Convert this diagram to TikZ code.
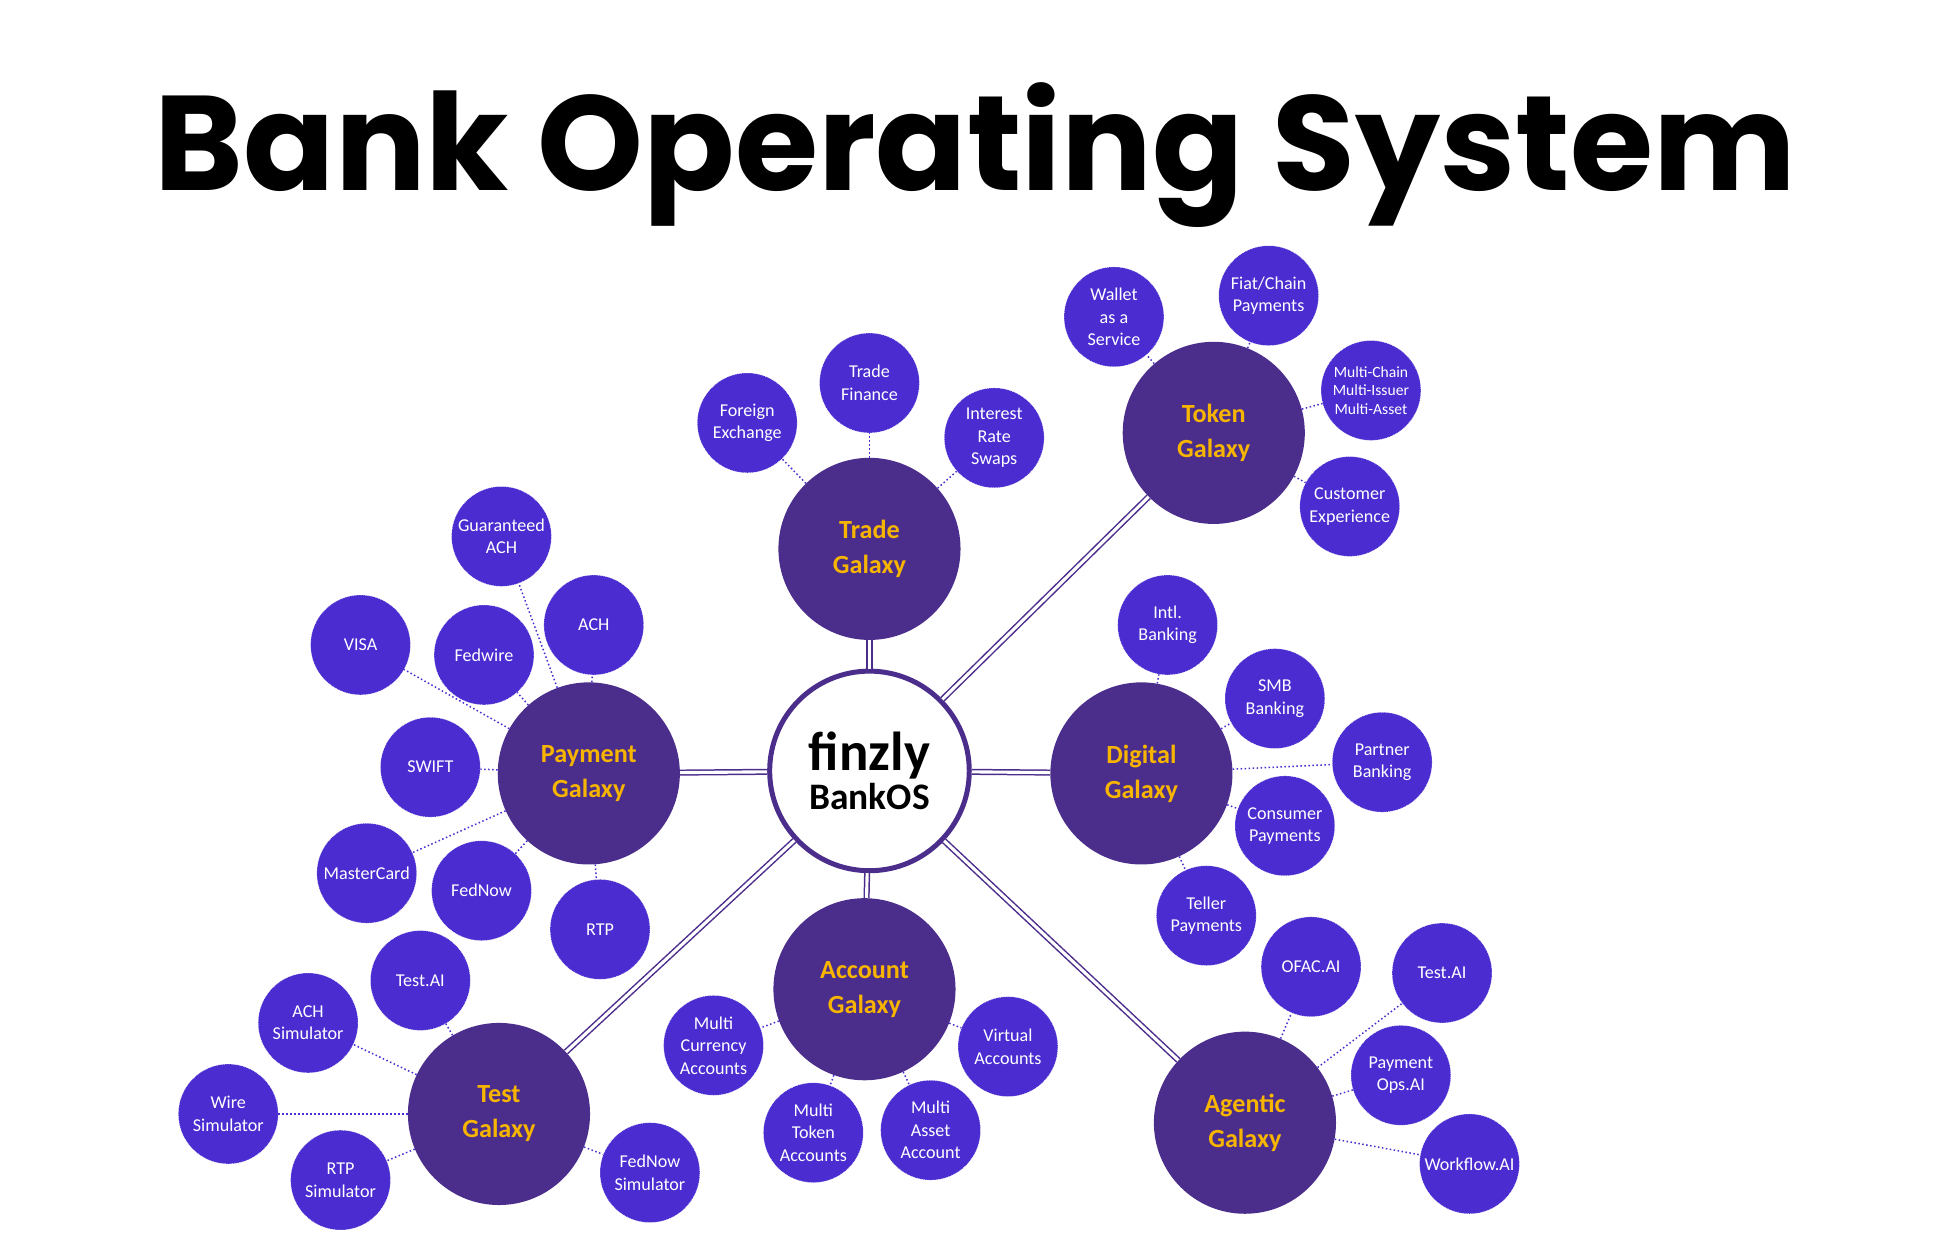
\documentclass[tikz,border=0pt]{standalone}
\usepackage{fontspec}
\setmainfont{Carlito}
\newfontfamily\titlefont{Poppins}
\usetikzlibrary{positioning}
\definecolor{galaxy}{HTML}{4B2D8C}
\definecolor{planet}{HTML}{4A2CD0}
\definecolor{gold}{HTML}{F7B500}
\tikzset{
  galaxy/.style={circle,fill=galaxy,minimum size=146pt,inner sep=0pt,align=center,
    text=gold,font=\fontsize{21}{28}\selectfont\bfseries},
  planet/.style={circle,fill=planet,draw=white,densely dotted,minimum size=80pt,inner sep=0pt,
    align=center,text=white,font=\fontsize{14.5}{18}\selectfont},
  hub/.style={double=white,draw=galaxy,double distance=2.5pt,line width=1.2pt},
  link/.style={draw=planet,dotted,line width=1.2pt}
}
\begin{document}
\begin{tikzpicture}[x=1pt,y=-1pt]
\useasboundingbox (0,0) rectangle (1560,1007);
\node (title) at (782,124) {\titlefont\fontsize{108}{108}\selectfont\bfseries Bank Operating System};
% core
\node[circle,fill=white,draw=galaxy,line width=4pt,minimum size=160pt,align=center] (core) at (697,618)
  {\fontsize{44}{44}\selectfont\bfseries finzly\\[2pt]\fontsize{30}{30}\selectfont\bfseries BankOS};
% galaxies
\node[galaxy] (trade) at (697,440) {Trade\\Galaxy};
\node[galaxy] (token) at (973,347) {Token\\Galaxy};
\node[galaxy] (payment) at (472,620) {Payment\\Galaxy};
\node[galaxy] (digital) at (915,620) {Digital\\Galaxy};
\node[galaxy] (account) at (693,793) {Account\\Galaxy};
\node[galaxy] (test) at (400,893) {Test\\Galaxy};
\node[galaxy] (agentic) at (998,900) {Agentic\\Galaxy};
% trade
\node[planet] (fx) at (599,339) {Foreign\\Exchange};
\node[planet] (finance) at (697,307) {Trade\\Finance};
\node[planet] (swaps) at (797,351) {Interest\\Rate\\Swaps};
% token
\node[planet] (wallet) at (893,254) {Wallet\\as a\\Service};
\node[planet] (fiat) at (1017,237) {Fiat/Chain\\Payments};
\node[planet,font=\fontsize{12.5}{15}\selectfont] (multichain) at (1099,313) {Multi-Chain\\Multi-Issuer\\Multi-Asset};
\node[planet] (custexp) at (1082,406) {Customer\\Experience};
% payment
\node[planet] (gach) at (402,430) {Guaranteed\\ACH};
\node[planet] (ach) at (476,501) {ACH};
\node[planet] (visa) at (289,517) {VISA};
\node[planet] (fedwire) at (388,525) {Fedwire};
\node[planet] (swift) at (345,615) {SWIFT};
\node[planet] (mastercard) at (294,700) {MasterCard};
\node[planet] (fednow) at (386,714) {FedNow};
\node[planet] (rtp) at (481,745) {RTP};
% digital
\node[planet] (intl) at (936,501) {Intl.\\Banking};
\node[planet] (smb) at (1022,560) {SMB\\Banking};
\node[planet] (partner) at (1108,611) {Partner\\Banking};
\node[planet] (consumer) at (1030,662) {Consumer\\Payments};
\node[planet] (teller) at (967,734) {Teller\\Payments};
% account
\node[planet] (multicur) at (572,838) {Multi\\Currency\\Accounts};
\node[planet] (virtual) at (808,839) {Virtual\\Accounts};
\node[planet] (multitok) at (652,908) {Multi\\Token\\Accounts};
\node[planet] (multiasset) at (746,906) {Multi\\Asset\\Account};
% test
\node[planet] (testai) at (337,786) {Test.AI};
\node[planet] (achsim) at (247,820) {ACH\\Simulator};
\node[planet] (wiresim) at (183,893) {Wire\\Simulator};
\node[planet] (rtpsim) at (273,946) {RTP\\Simulator};
\node[planet] (fednowsim) at (521,940) {FedNow\\Simulator};
% agentic
\node[planet] (ofac) at (1051,775) {OFAC.AI};
\node[planet] (agtest) at (1156,780) {Test.AI};
\node[planet] (payops) at (1123,862) {Payment\\Ops.AI};
\node[planet] (workflow) at (1178,933) {Workflow.AI};
% hub links
\draw[hub] (core) -- (trade);
\draw[hub] (core) -- (token);
\draw[hub] (core) -- (payment);
\draw[hub] (core) -- (digital);
\draw[hub] (core) -- (account);
\draw[hub] (core) -- (test);
\draw[hub] (core) -- (agentic);
% planet links
\foreach \g/\p in {trade/fx,trade/finance,trade/swaps,
  token/wallet,token/fiat,token/multichain,token/custexp,
  payment/gach,payment/ach,payment/visa,payment/fedwire,payment/swift,payment/mastercard,payment/fednow,payment/rtp,
  digital/intl,digital/smb,digital/partner,digital/consumer,digital/teller,
  account/multicur,account/virtual,account/multitok,account/multiasset,
  test/testai,test/achsim,test/wiresim,test/rtpsim,test/fednowsim,
  agentic/ofac,agentic/agtest,agentic/payops,agentic/workflow}
  \draw[link] (\g) -- (\p);
\end{tikzpicture}
\end{document}
